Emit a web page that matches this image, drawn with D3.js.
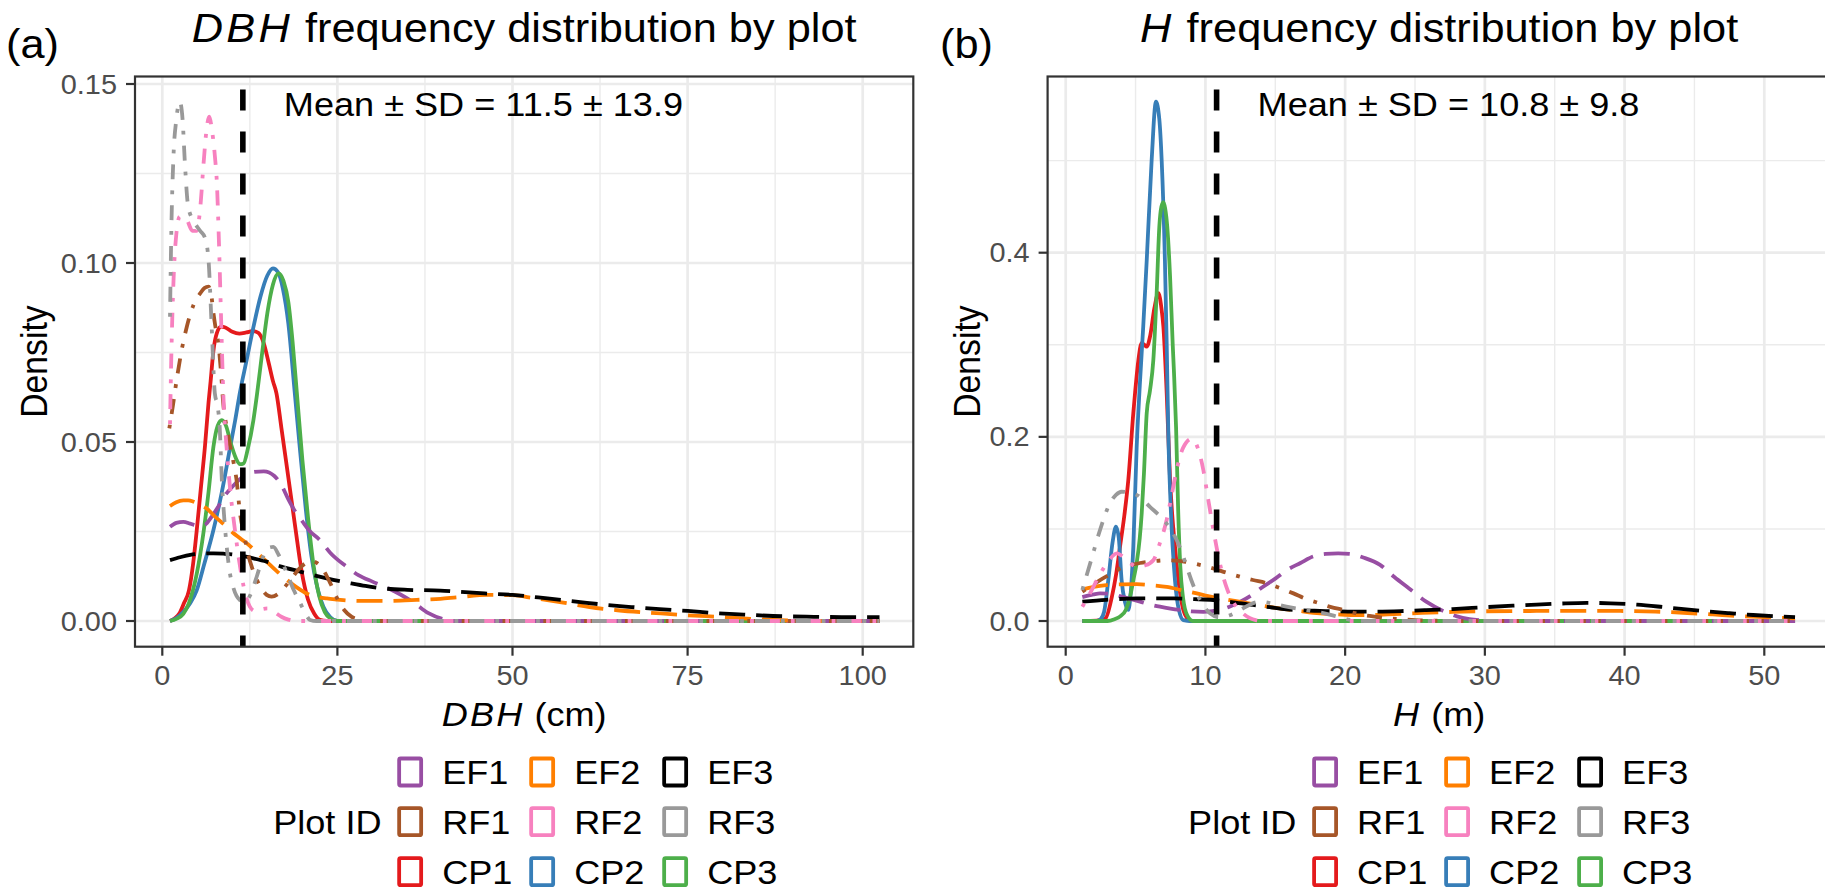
<!DOCTYPE html>
<html>
<head>
<meta charset="utf-8">
<script src="https://cdn.jsdelivr.net/npm/d3@7"></script>
<style>
  body { margin: 0; background: #fff; overflow: hidden; }
  svg { display: block; }
  text { font-family: "Liberation Sans", Arial, sans-serif; }
</style>
</head>
<body>
<div id="chart"></div>
<script>
// ---- data ----
var plotIds = ["EF1", "EF2", "EF3", "RF1", "RF2", "RF3", "CP1", "CP2", "CP3"];
var plotColors = ["#984EA3", "#FF7F00", "#000000", "#A65628", "#F781BF", "#999999", "#E41A1C", "#377EB8", "#4DAF4A"];

var dbhMean = 11.5, dbhSD = 13.9;
var hMean = 10.8, hSD = 9.8;

var dbhXTicks = [0, 25, 50, 75, 100];
var dbhXMinor = [12.5, 37.5, 62.5, 87.5];
var dbhYTicks = [0, 0.05, 0.10, 0.15];
var dbhYMinor = [0.025, 0.075, 0.125];
var hXTicks = [0, 10, 20, 30, 40, 50];
var hXMinor = [5, 15, 25, 35, 45];
var hYTicks = [0, 0.2, 0.4];
var hYMinor = [0.1, 0.3, 0.5];

// DBH densities, [DBH, density]
var dbhEF1 = [[1.1,.0263],[2,.0274],[3,.0277],[4,.0272],[5,.0266],[6,.0268],[7,.029],[8,.032],[9,.0352],[10,.0375],[11,.0395],[12,.041],[13,.0416],[14.5,.0418],[16,.0405],[17,.038],[18,.034],[19,.0305],[20,.0278],[21,.0252],[22.5,.0226],[24,.019],[26.3,.0152],[28,.0128],[30,.011],[32,.0094],[34,.0074],[36,.005],[38,.0022],[40,.0006],[42,0],[102.4,0]];
var dbhEF2 = [[1.1,.0321],[2,.0332],[3,.0337],[3.7,.0337],[4.5,.0333],[5.4,.0325],[6.3,.0315],[7.5,.0292],[8.5,.0275],[9.2,.0263],[10,.0248],[11.1,.0231],[12.5,.021],[13.7,.0188],[14.9,.0166],[16.3,.014],[17.8,.0115],[19.2,.0094],[20.6,.0077],[22,.0068],[23.5,.0063],[25,.006],[26.8,.0057],[29,.0056],[31.6,.0056],[34,.0057],[36.3,.0059],[39.7,.0062],[42,.0066],[46.6,.0073],[50,.0072],[53,.0064],[57,.0052],[61,.0039],[65,.003],[70.5,.0022],[75,.0016],[80,.0011],[84,.0006],[87.2,.0003],[90,.0001],[93,0],[102.4,0]];
var dbhEF3 = [[1.1,.017],[2.5,.0178],[4,.0185],[5.5,.0188],[7.3,.0189],[8.7,.0188],[10.1,.0186],[11.5,.0181],[13,.0175],[14.9,.0166],[17,.0152],[19.7,.0138],[22,.0126],[24.4,.0115],[27,.0105],[29,.0098],[31.6,.0091],[35,.0087],[39.7,.0085],[42,.0082],[46,.0077],[50,.0073],[55,.0063],[60,.0052],[63.4,.0045],[67,.0039],[71,.0033],[75,.0028],[79,.0022],[83,.0018],[87.2,.0014],[92,.0012],[97,.0011],[102.4,.0011]];
var dbhRF1 = [[1.0,.0538],[1.5,.06],[2.1,.068],[2.8,.076],[3.5,.0822],[4.5,.0885],[5.4,.0915],[6.0,.093],[6.6,.0934],[7.0,.091],[7.3,.086],[7.6,.082],[8.0,.0776],[8.4,.069],[8.7,.0608],[9.2,.054],[9.7,.0487],[10.2,.044],[10.6,.0394],[11.1,.030],[11.7,.024],[12.2,.019],[12.8,.015],[13.5,.0115],[14.2,.009],[14.9,.0073],[15.6,.0068],[16.5,.0075],[17.5,.0095],[18.5,.012],[19.5,.0145],[20.5,.0162],[21.3,.0167],[22,.0163],[23,.0142],[24,.0105],[25,.0062],[26,.003],[27,.0012],[28,.0004],[29,0],[102.4,0]];
var dbhRF2 = [[1.1,.055],[1.3,.075],[1.6,.095],[2.0,.108],[2.5,.113],[3.5,.112],[4.3,.109],[4.9,.109],[5.4,.115],[5.9,.128],[6.3,.137],[6.7,.1409],[7.1,.137],[7.5,.13],[7.8,.122],[8.1,.105],[8.4,.084],[8.7,.064],[9.2,.048],[9.7,.0366],[10.4,.025],[11.1,.0152],[11.8,.008],[12.5,.004],[13.2,.0028],[14,.0032],[15,.0035],[16,.0025],[17,.0012],[18,.0004],[19,0],[102.4,0]];
var dbhRF3 = [[1.1,.085],[1.3,.11],[1.6,.13],[2.0,.14],[2.5,.145],[2.9,.14],[3.2,.1288],[3.7,.1157],[4.4,.112],[5.4,.109],[6.1,.107],[6.6,.1008],[7.05,.0822],[7.5,.0636],[7.9,.06],[8.2,.054],[8.5,.0394],[8.8,.03],[9.2,.0207],[9.6,.014],[10.1,.0096],[10.6,.007],[11.1,.0058],[11.7,.0052],[12.5,.007],[13.5,.0125],[14.4,.018],[15.2,.0205],[15.85,.0207],[16.6,.0185],[17.8,.0133],[18.8,.0085],[19.7,.005],[20.5,.0018],[21.1,.0003],[22,0],[102.4,0]];
var dbhCP1 = [[1.1,0],[1.8,.0008],[2.4,.002],[3.1,.005],[3.8,.0085],[4.4,.016],[4.9,.025],[5.5,.037],[6.1,.049],[6.6,.061],[6.9,.067],[7.3,.0755],[7.8,.0805],[8.4,.0822],[9,.082],[10,.0808],[11,.0803],[12,.0806],[13,.081],[13.7,.0805],[14.5,.0775],[15.2,.072],[15.8,.067],[16.3,.0636],[17,.054],[18,.040],[19,.026],[19.9,.0138],[20.8,.006],[21.7,.002],[22.5,.0003],[23.5,0],[102.4,0]];
var dbhCP2 = [[1.1,0],[2,.0008],[3,.0025],[4,.005],[4.9,.0085],[6,.016],[7.3,.0254],[8.5,.036],[9.7,.0487],[10.4,.056],[11.1,.064],[12,.0725],[13,.082],[14,.0905],[15,.0965],[15.8,.0985],[16.5,.0975],[17.2,.093],[18,.083],[18.9,.064],[19.7,.047],[20.5,.031],[21.3,.018],[22,.0105],[23,.004],[24,.001],[25,0],[102.4,0]];
var dbhCP3 = [[1.1,0],[2,.0006],[3,.002],[3.8,.005],[4.9,.013],[5.9,.025],[6.6,.036],[7.3,.0487],[7.9,.0545],[8.5,.0561],[9.1,.0545],[9.8,.0495],[10.5,.0455],[11.1,.0438],[11.6,.044],[12.2,.048],[13,.056],[13.5,.063],[14.2,.074],[15,.086],[15.8,.094],[16.6,.0971],[17.3,.095],[18,.089],[18.6,.078],[19.2,.064],[20,.045],[20.8,.029],[21.6,.0155],[22.4,.007],[23.2,.0025],[24,.0007],[25,0],[102.4,0]];

// H densities, [H, density]
var hEF1 = [[1.19,.026],[2,.029],[2.46,.030],[3.2,.0295],[3.89,.027],[4.6,.024],[5.32,.021],[6,.018],[6.75,.0155],[7.5,.0135],[8.18,.012],[9,.0105],[9.85,.010],[10.5,.0108],[11.0,.012],[11.8,.016],[12.5,.021],[13.3,.028],[14.1,.037],[15,.046],[15.8,.055],[16.8,.063],[17.7,.070],[18.6,.0728],[19.5,.0735],[20.4,.0728],[21.3,.069],[22.5,.061],[23.5,.048],[24.6,.035],[25.8,.021],[27,.011],[28,.005],[28.9,.002],[30,.0005],[31,0],[52.2,0]];
var hEF2 = [[1.19,.034],[2,.037],[2.9,.039],[4,.0398],[5.08,.040],[6.2,.0388],[7.23,.037],[8.3,.0335],[9.38,.030],[10.2,.027],[11.05,.0246],[12.1,.0218],[13.2,.019],[14.2,.0163],[15.3,.0138],[16.7,.011],[18.2,.0083],[19.5,.0071],[20.6,.0065],[21.8,.0066],[23.5,.0075],[25.5,.0088],[27.7,.0099],[30,.0106],[33.7,.0109],[37,.011],[39.7,.0109],[42.2,.0102],[44.5,.0087],[46.3,.0071],[48,.0055],[50,.0041],[52.2,.003]];
var hEF3 = [[1.19,.021],[2.9,.023],[5.08,.0245],[7.7,.0245],[9.2,.0238],[10.57,.0228],[12,.0203],[13.4,.0174],[14.6,.015],[15.8,.0127],[17,.0115],[18.2,.011],[19.4,.0105],[20.6,.0102],[21.8,.0102],[24,.0108],[25.8,.0118],[27.7,.013],[30,.015],[32,.0166],[33.7,.0178],[35.5,.019],[37.3,.0197],[39,.0192],[40.9,.0178],[43,.0148],[45.6,.0109],[47.5,.0085],[49.2,.0065],[50.7,.0052],[52.2,.0042]];
var hRF1 = [[1.19,.032],[1.8,.038],[2.46,.0445],[3.2,.051],[3.89,.057],[4.6,.0605],[5.32,.063],[6.3,.065],[7.23,.066],[8,.0655],[8.66,.064],[9.6,.061],[10.57,.057],[11.5,.0525],[12.5,.048],[13.4,.0445],[14.4,.041],[15.3,.036],[16.3,.030],[17.2,.024],[18.2,.019],[19,.015],[19.9,.012],[20.6,.009],[21.3,.0065],[22.2,.0045],[23,.003],[24,.002],[25,.001],[26.5,.0003],[28,0],[52.2,0]];
var hRF2 = [[1.19,.0155],[1.6,.026],[1.98,.037],[2.5,.052],[3.1,.066],[3.65,.0735],[4.1,.07],[4.6,.063],[5.08,.059],[5.7,.0605],[6.27,.066],[6.75,.085],[7.23,.110],[7.6,.138],[7.94,.164],[8.4,.188],[9.02,.198],[9.45,.188],[9.85,.164],[10.2,.132],[10.57,.099],[11,.065],[11.5,.037],[12.1,.018],[12.7,.008],[13.2,.003],[13.6,.001],[14.2,0],[52.2,0]];
var hRF3 = [[1.19,.0337],[1.8,.065],[2.46,.099],[3.17,.128],[3.6,.137],[4.0,.1404],[4.5,.1395],[5.08,.137],[6.03,.124],[6.99,.110],[7.5,.1],[7.94,.088],[8.3,.075],[8.66,.059],[9.0,.044],[9.38,.030],[9.85,.017],[10.33,.0083],[11,.004],[11.7,.006],[12.5,.012],[13.2,.018],[13.9,.021],[14.8,.019],[15.8,.0155],[17.2,.012],[18.6,.008],[19.5,.0045],[20.5,.001],[21.5,0],[52.2,0]];
var hCP1 = [[1.19,0],[2.2,.0003],[2.85,.003],[3.3,.026],[3.6,.05],[3.89,.081],[4.2,.115],[4.48,.153],[4.84,.226],[4.96,.247],[5.2,.283],[5.44,.302],[5.62,.30],[5.8,.298],[6.05,.31],[6.35,.34],[6.63,.356],[6.85,.34],[6.99,.32],[7.23,.247],[7.47,.153],[7.65,.11],[7.82,.081],[8.1,.04],[8.42,.012],[8.7,.003],[8.9,0],[52.2,0]];
var hCP2 = [[1.19,0],[2.2,0],[2.5,.002],[2.75,.01],[3.05,.0445],[3.35,.085],[3.6,.1024],[3.8,.09],[4.0,.0445],[4.25,.02],[4.48,.012],[4.65,.03],[4.84,.081],[5.08,.189],[5.3,.255],[5.55,.32],[5.8,.392],[6.15,.50],[6.46,.564],[6.7,.545],[6.87,.50],[7.1,.392],[7.23,.3],[7.35,.2],[7.5,.13],[7.82,.0445],[8.1,.012],[8.42,.001],[9,0],[52.2,0]];
var hCP3 = [[1.19,0],[3.0,0],[3.5,.002],[3.9,.005],[4.3,.012],[4.6,.026],[4.85,.045],[5.08,.063],[5.3,.09],[5.44,.117],[5.6,.16],[5.8,.226],[6.03,.25],[6.27,.283],[6.51,.356],[6.7,.428],[6.85,.45],[6.99,.455],[7.12,.448],[7.27,.428],[7.47,.374],[7.66,.30],[7.75,.27],[7.9,.21],[8.05,.12],[8.2,.06],[8.4,.025],[8.7,.006],[9.1,0],[52.2,0]];

var dbhCurves = [dbhEF1, dbhEF2, dbhEF3, dbhRF1, dbhRF2, dbhRF3, dbhCP1, dbhCP2, dbhCP3];
var hCurves = [hEF1, hEF2, hEF3, hRF1, hRF2, hRF3, hCP1, hCP2, hCP3];

// ---- layout ----
var W = 1825, H = 891;
var stretch = 1.07;   // the reference is a little wider than tall
var tickSize = 27, titleSize = 33.75, mainSize = 40.5;
var lineW = 3.8;

// forest type -> linetype
function dashFor(id) {
    if (id.indexOf("EF") === 0) return "26,11";
    if (id.indexOf("RF") === 0) return "3.8,11,15,11";
    return null;
}

var drawOrder = [6, 7, 8, 0, 1, 2, 3, 4, 5];

var svg = d3.select("#chart").append("svg")
    .attr("width", W)
    .attr("height", H);

svg.append("rect").attr("width", W).attr("height", H).attr("fill", "#fff");

function addText(parent, x, y, anchor, size, rot) {
    return parent.append("text")
        .attr("transform", "translate(" + x + "," + y + ") scale(" + stretch + ",1)" + (rot ? " rotate(" + rot + ")" : ""))
        .attr("text-anchor", anchor)
        .attr("font-size", size);
}

function drawPanel(p) {
    var g = svg.append("g");
    var left = p.box[0], right = p.box[1], top = p.box[2], bottom = p.box[3];
    var cx = (left + right) / 2;

    var x = d3.scaleLinear().domain(p.xDom).range(p.xRange);
    var y = d3.scaleLinear().domain(p.yDom).range(p.yRange);

    var clipId = "clip" + p.tag;
    svg.append("clipPath").attr("id", clipId)
        .append("rect")
        .attr("x", left).attr("y", top)
        .attr("width", right - left).attr("height", bottom - top);

    // grid
    var grid = g.append("g");
    grid.selectAll(".xmin").data(p.xMinor).enter().append("line")
        .attr("x1", d => x(d)).attr("x2", d => x(d))
        .attr("y1", top).attr("y2", bottom)
        .attr("stroke", "#EBEBEB").attr("stroke-width", 1.4);
    grid.selectAll(".ymin").data(p.yMinor).enter().append("line")
        .attr("x1", left).attr("x2", right)
        .attr("y1", d => y(d)).attr("y2", d => y(d))
        .attr("stroke", "#EBEBEB").attr("stroke-width", 1.4);
    grid.selectAll(".xmaj").data(p.xTicks).enter().append("line")
        .attr("x1", d => x(d)).attr("x2", d => x(d))
        .attr("y1", top).attr("y2", bottom)
        .attr("stroke", "#EBEBEB").attr("stroke-width", 2.7);
    grid.selectAll(".ymaj").data(p.yTicks).enter().append("line")
        .attr("x1", left).attr("x2", right)
        .attr("y1", d => y(d)).attr("y2", d => y(d))
        .attr("stroke", "#EBEBEB").attr("stroke-width", 2.7);

    // density curves
    var line = d3.line()
        .x(d => x(d[0]))
        .y(d => y(d[1]))
        .curve(d3.curveMonotoneX);

    var curves = g.append("g").attr("clip-path", "url(#" + clipId + ")");
    drawOrder.forEach(function (i) {
        curves.append("path")
            .datum(p.curves[i])
            .attr("d", line)
            .attr("fill", "none")
            .attr("stroke", plotColors[i])
            .attr("stroke-width", lineW)
            .attr("stroke-dasharray", dashFor(plotIds[i]))
            .attr("stroke-linejoin", "round");
    });

    // mean line
    curves.append("line")
        .attr("x1", x(p.mean)).attr("x2", x(p.mean))
        .attr("y1", top).attr("y2", bottom)
        .attr("stroke", "#000")
        .attr("stroke-width", 5.6)
        .attr("stroke-dasharray", "21,21")
        .attr("stroke-dashoffset", 29);

    addText(g, x(p.mean) + 41, 116, "start", titleSize)
        .attr("fill", "#000")
        .text("Mean \u00B1 SD = " + p.mean.toFixed(1) + " \u00B1 " + p.sd.toFixed(1));

    // border
    g.append("rect")
        .attr("x", left).attr("y", top)
        .attr("width", right - left).attr("height", bottom - top)
        .attr("fill", "none").attr("stroke", "#333333").attr("stroke-width", 2.2);

    // axes ticks
    p.yTicks.forEach(function (t) {
        g.append("line")
            .attr("x1", left - 9).attr("x2", left)
            .attr("y1", y(t)).attr("y2", y(t))
            .attr("stroke", "#333333").attr("stroke-width", 2.2);
        addText(g, left - 18, y(t) + 9.6, "end", tickSize)
            .attr("fill", "#4D4D4D")
            .text(p.yFormat(t));
    });
    p.xTicks.forEach(function (t) {
        g.append("line")
            .attr("x1", x(t)).attr("x2", x(t))
            .attr("y1", bottom).attr("y2", bottom + 9)
            .attr("stroke", "#333333").attr("stroke-width", 2.2);
        addText(g, x(t), 685, "middle", tickSize)
            .attr("fill", "#4D4D4D")
            .text(d3.format("d")(t));
    });

    // axis titles
    var xt = addText(g, cx, 726, "middle", titleSize).attr("fill", "#000");
    xt.append("tspan").attr("font-style", "italic").attr("letter-spacing", 2).text(p.varName);
    xt.append("tspan").text(" (" + p.unit + ")");

    addText(g, p.yTitleX, (top + bottom) / 2, "middle", titleSize, -90)
        .attr("fill", "#000")
        .text("Density");

    // main title and tag
    var tt = addText(g, cx, 42, "middle", mainSize).attr("fill", "#000");
    tt.append("tspan").attr("font-style", "italic").attr("letter-spacing", 3).text(p.varName);
    tt.append("tspan").text(" frequency distribution by plot");

    addText(g, p.tagX, 58, "start", mainSize).attr("fill", "#000").text("(" + p.tag + ")");

    // legend
    var legLeft = cx - 251;
    var rowsY = [772, 821.7, 871.7];
    var colX = [124, 256, 389];
    addText(g, legLeft, rowsY[1] + 12, "start", titleSize).attr("fill", "#000").text("Plot ID");
    plotIds.forEach(function (id, i) {
        var r = Math.floor(i / 3), c = i % 3;
        var kx = legLeft + colX[c];
        g.append("rect")
            .attr("x", kx + 2).attr("y", rowsY[r] - 13.5)
            .attr("width", 22).attr("height", 27)
            .attr("rx", 1.5)
            .attr("fill", "#fff")
            .attr("stroke", plotColors[i])
            .attr("stroke-width", 3.8);
        addText(g, kx + 45, rowsY[r] + 12, "start", titleSize).attr("fill", "#000").text(id);
    });
}

drawPanel({
    tag: "a",
    tagX: 6,
    box: [135, 913.3, 76.5, 646.7],
    xDom: [0, 100], xRange: [162.3, 862.7],
    yDom: [0, 0.15], yRange: [621, 84],
    xTicks: dbhXTicks, xMinor: dbhXMinor,
    yTicks: dbhYTicks, yMinor: dbhYMinor,
    yFormat: d3.format(".2f"),
    yTitleX: 46.5,
    curves: dbhCurves,
    mean: dbhMean, sd: dbhSD,
    varName: "DBH", unit: "cm"
});

drawPanel({
    tag: "b",
    tagX: 940,
    box: [1047.6, 1830.6, 76.5, 646.7],
    xDom: [0, 50], xRange: [1065.7, 1764.3],
    yDom: [0, 0.4], yRange: [621, 252.7],
    xTicks: hXTicks, xMinor: hXMinor,
    yTicks: hYTicks, yMinor: hYMinor,
    yFormat: d3.format(".1f"),
    yTitleX: 980,
    curves: hCurves,
    mean: hMean, sd: hSD,
    varName: "H", unit: "m"
});
</script>
</body>
</html>
